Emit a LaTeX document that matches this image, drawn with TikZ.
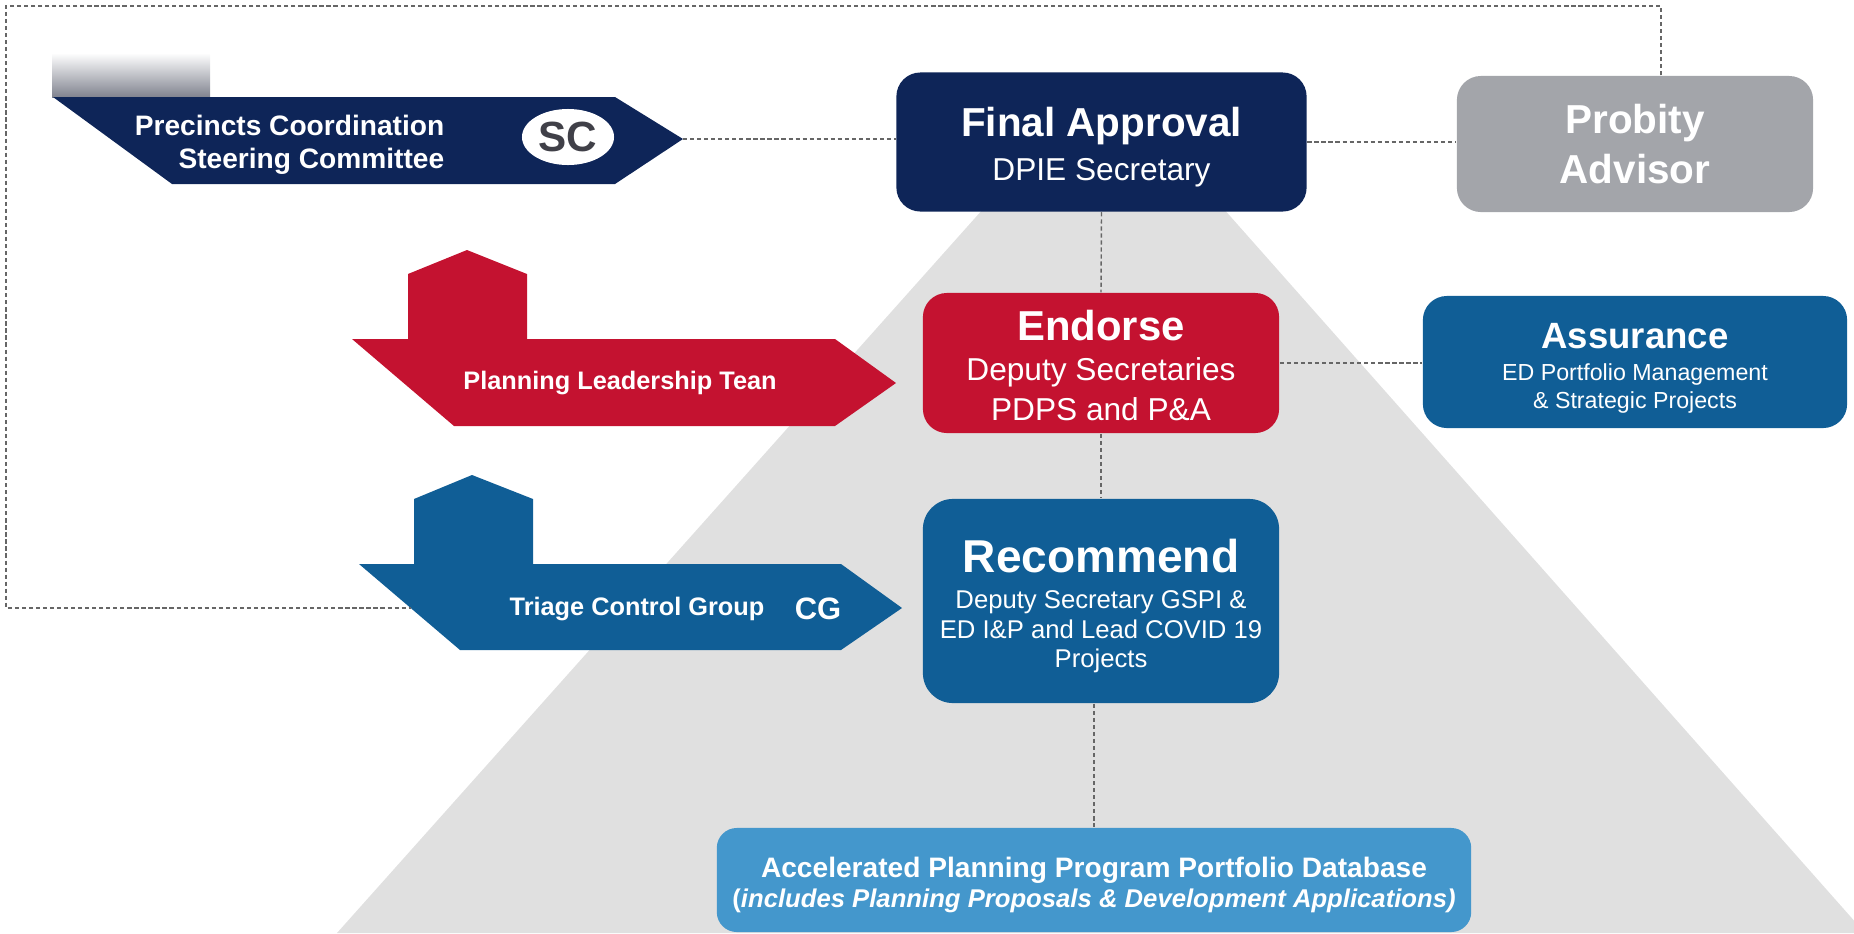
\documentclass[tikz,border=0pt]{standalone}
\usepackage{fontspec}
\setmainfont{Liberation Sans}
\usetikzlibrary{shapes.geometric}

\definecolor{navy}{RGB}{14,37,88}
\definecolor{crimson}{RGB}{196,18,48}
\definecolor{steel}{RGB}{16,94,150}
\definecolor{dbblue}{RGB}{68,151,204}
\definecolor{probgray}{RGB}{163,165,170}
\definecolor{pyrgray}{RGB}{224,224,224}
\definecolor{tabgray}{RGB}{128,131,143}
\definecolor{scgray}{RGB}{64,64,72}

\begin{document}
\begin{tikzpicture}[x=0.01cm, y=-0.01cm,
    box/.style={rounded corners=0.24cm, text=white, align=center, inner sep=0pt},
    link/.style={draw=black!60, line width=0.4pt, dash pattern=on 1.2pt off 0.8pt},
    tag/.style={text=white, inner sep=0pt, font=\bfseries\fontsize{7.2}{8.6}\selectfont}]
    {
    \useasboundingbox (0,0) rectangle (1854,933);
    \clip (0,0) rectangle (1854,933);

    \def\boxlift#1{\rule{0pt}{#1}}
    \def\pyramid{(1000,190) -- (1207,190) -- (1865,933) -- (337,933) -- cycle}
    \def\scbanner{(53,97) -- (615,97) -- (683,139) -- (615,184) -- (172,184) -- cycle}
    \def\plbanner{(352,339) -- (408,339) -- (408,274) -- (467,250) -- (527,274) -- (527,339) -- (835,339) -- (896,383) -- (835,426) -- (454,426) -- cycle}
    \def\tgbanner{(359,564) -- (414,564) -- (414,499) -- (472,475) -- (533,499) -- (533,564) -- (841,564) -- (902,608) -- (841,650) -- (460,650) -- cycle}

    \fill[pyrgray] \pyramid;
    \shade[top color=white, bottom color=tabgray] (52,53) rectangle (210,97);
    \fill[navy] \scbanner;
    \fill[crimson] \plbanner;
    \fill[steel] \tgbanner;

    \coordinate (sctip) at (683,139);
    \coordinate (tgleft) at (411,608);

    \node[anchor=east, align=right, text=white, inner sep=0pt, font=\bfseries\fontsize{8}{9.4}\selectfont] (scname) at (445,145) {Precincts Coordination\\Steering Committee};
    \node[ellipse, fill=white, minimum width=0.92cm, minimum height=0.56cm, inner sep=0pt, text=scgray, font=\bfseries\fontsize{12}{14}\selectfont] (sc) at (568,137) {SC};
    \node[tag] (plname) at (620,383) {Planning Leadership Tean};
    \node[tag] (tgname) at (637,609) {Triage Control Group};
    \node[tag, font=\bfseries\fontsize{8.8}{10}\selectfont] (cg) at (818,609) {CG};

    \node[box, fill=navy, minimum width=4.1cm, minimum height=1.39cm, font=\fontsize{9}{12.3}\selectfont] (final) at (1101.5,142) {\boxlift{11.2pt}{\bfseries\fontsize{11.5}{13}\selectfont Final Approval}\\DPIE Secretary};
    \node[box, fill=probgray, minimum width=3.56cm, minimum height=1.36cm, font=\bfseries\fontsize{11.5}{14}\selectfont] (probity) at (1635,144) {Probity\\Advisor};
    \node[box, fill=crimson, minimum width=3.56cm, minimum height=1.40cm, font=\fontsize{9}{11.4}\selectfont] (endorse) at (1101,363) {\boxlift{9.9pt}{\bfseries\fontsize{11.9}{13}\selectfont Endorse}\\Deputy Secretaries\\PDPS and P\&A};
    \node[box, fill=steel, minimum width=4.24cm, minimum height=1.32cm, font=\fontsize{6.6}{7.9}\selectfont] (assurance) at (1635,362) {\boxlift{10.7pt}{\bfseries\fontsize{10.4}{12}\selectfont Assurance}\\[1.1pt]ED Portfolio Management\\\& Strategic Projects};
    \node[box, rounded corners=0.3cm, fill=steel, minimum width=3.56cm, minimum height=2.04cm, font=\fontsize{7.3}{8.5}\selectfont] (recommend) at (1101,601) {\boxlift{12.5pt}{\bfseries\fontsize{13.1}{15}\selectfont Recommend}\\[1.6pt]Deputy Secretary GSPI \&\\ED I\&P and Lead COVID 19\\Projects};
    \node[box, rounded corners=0.2cm, fill=dbblue, minimum width=7.54cm, minimum height=1.04cm, font=\bfseries\fontsize{8}{8.5}\selectfont] (db) at (1094,880) {\boxlift{8.4pt}Accelerated Planning Program Portfolio Database\\{\fontsize{7.3}{8.5}\selectfont(\textit{includes Planning Proposals \& Development Applications)}}};

    \draw[link] (sctip) -- (final.west |- sctip);
    \draw[link] (final.east) -- (final.east -| probity.west);
    \draw[link] (final.south) -- (endorse.north);
    \draw[link] (endorse.east) -- (endorse.east -| assurance.west);
    \draw[link] (endorse.south) -- (recommend.north);
    \draw[link] (recommend.south -| db.north) -- (db.north);
    \draw[link] ([xshift=0.26cm]probity.north) |- (6,6) |- (tgleft);
}
\end{tikzpicture}
\end{document}
